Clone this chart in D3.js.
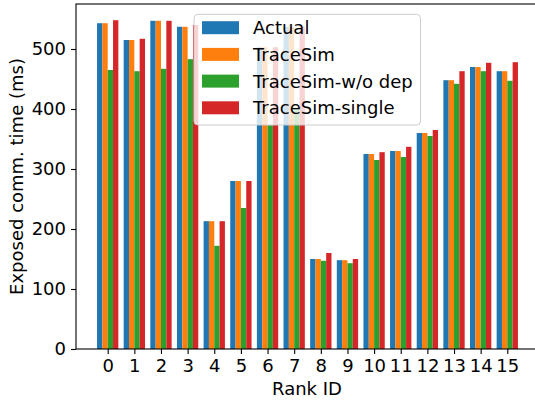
<!DOCTYPE html>
<html>
<head>
<meta charset="utf-8">
<script src="https://cdn.jsdelivr.net/npm/d3@7"></script>
<style>
  html, body { margin: 0; padding: 0; background: #fff; }
  svg { display: block; }
  text { font-family: "DejaVu Sans", sans-serif; fill: #000; }
</style>
</head>
<body>
<svg id="chart" width="535" height="403"></svg>
<script>
const ranks = [0,1,2,3,4,5,6,7,8,9,10,11,12,13,14,15];
const seriesNames = ["Actual", "TraceSim", "TraceSim-w/o dep", "TraceSim-single"];
const actual      = [543, 515, 547, 537, 213, 280, 503, 537, 150, 148, 325, 330, 360, 448, 470, 463];
const traceSim    = [543, 515, 547, 537, 213, 280, 503, 537, 150, 148, 325, 330, 360, 448, 470, 463];
const traceSimWo  = [465, 463, 467, 483, 172, 235, 373, 402, 147, 143, 315, 320, 355, 442, 463, 447];
const traceSimSgl = [548, 517, 547, 540, 213, 280, 503, 538, 160, 150, 328, 337, 365, 463, 477, 478];
const yTicks = [0, 100, 200, 300, 400, 500];
const colors = ["#1f77b4", "#ff7f0e", "#2ca02c", "#d62728"];

(function () {
const series = [actual, traceSim, traceSimWo, traceSimSgl];
const svg = d3.select("#chart");

const mLeft = 76, mRight = 539, mTop = 4, mBottom = 349;
const x = d3.scaleLinear().domain([-1.19, 16.19]).range([mLeft, mRight]);
const y = d3.scaleLinear().domain([0, 575]).range([mBottom, mTop]);
const barW = 0.2;

// bars
series.forEach((vals, j) => {
  svg.append("g").selectAll("rect").data(ranks).enter().append("rect")
    .attr("x", d => x(d - 0.4 + barW * j))
    .attr("width", d => x(d - 0.4 + barW * (j + 1)) - x(d - 0.4 + barW * j))
    .attr("y", (d, i) => y(vals[i]))
    .attr("height", (d, i) => y(0) - y(vals[i]))
    .attr("fill", colors[j]);
});

// axes
const fontSize = 18;
const xAxis = d3.axisBottom(x).tickValues(ranks).tickFormat(d3.format("d")).tickSize(5).tickPadding(5);
const gx = svg.append("g").attr("transform", `translate(0,${mBottom})`).call(xAxis);
gx.select(".domain").remove();
gx.selectAll("text").attr("font-size", fontSize).attr("font-family", "DejaVu Sans").attr("fill", "#000");
gx.selectAll("line").attr("stroke", "#000").attr("stroke-width", 1.1);

const yAxis = d3.axisLeft(y).tickValues(yTicks).tickSize(5).tickPadding(5);
const gy = svg.append("g").attr("transform", `translate(${mLeft},0)`).call(yAxis);
gy.select(".domain").remove();
gy.selectAll("text").attr("font-size", fontSize).attr("font-family", "DejaVu Sans").attr("fill", "#000");
gy.selectAll("line").attr("stroke", "#000").attr("stroke-width", 1.1);

// spines
svg.append("rect").attr("x", mLeft).attr("y", mTop).attr("width", mRight - mLeft).attr("height", mBottom - mTop)
  .attr("fill", "none").attr("stroke", "#000").attr("stroke-width", 1.1);

// axis labels
svg.append("text").attr("x", 307).attr("y", 395).attr("text-anchor", "middle")
  .attr("font-size", fontSize).text("Rank ID");
svg.append("text").attr("transform", `translate(23,${(mTop + mBottom) / 2}) rotate(-90)`)
  .attr("text-anchor", "middle").attr("font-size", fontSize).text("Exposed comm. time (ms)");

// legend
const lg = svg.append("g");
lg.append("rect").attr("x", 194).attr("y", 14.3).attr("width", 226.5).attr("height", 110.7)
  .attr("rx", 4).attr("fill", "#fff").attr("fill-opacity", 0.8).attr("stroke", "#cccccc").attr("stroke-width", 1);
seriesNames.forEach((name, j) => {
  const cy = 27.7 + j * 26.7;
  lg.append("rect").attr("x", 202).attr("y", cy - 6.5).attr("width", 37).attr("height", 13).attr("fill", colors[j]);
  lg.append("text").attr("x", 253).attr("y", cy + 6.6).attr("font-size", fontSize).text(name);
});
})();
</script>
</body>
</html>
